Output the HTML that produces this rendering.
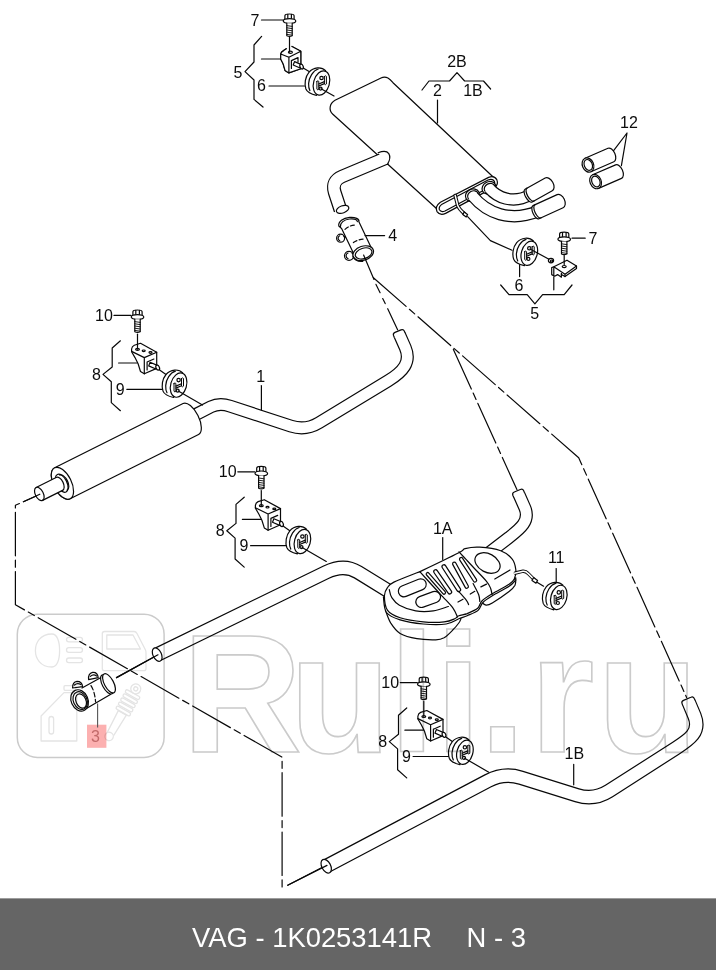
<!DOCTYPE html>
<html><head><meta charset="utf-8"><title>VAG - 1K0253141R</title>
<style>
html,body{margin:0;padding:0;background:#fff;}
body{width:716px;height:970px;overflow:hidden;position:relative;font-family:"Liberation Sans",sans-serif;}
#dia{position:absolute;left:0;top:0;width:716px;height:898px;display:block;}
#bar{position:absolute;left:0;top:898px;width:716px;height:72px;background:#656565;border-top:1px solid #9c9c9c;box-sizing:border-box;}
#bar span{position:absolute;top:24px;color:#fff;font-size:27.4px;line-height:30px;white-space:nowrap;}
.s{fill:none;stroke:#080808;stroke-width:1.2;stroke-linecap:round;stroke-linejoin:round;}
.w{fill:#fff;stroke:#080808;stroke-width:1.2;stroke-linecap:round;stroke-linejoin:round;}
.t{font-family:"Liberation Sans",sans-serif;font-size:16px;fill:#0c0c0c;text-anchor:middle;}
.wm{fill:none;stroke:#cbcbcb;stroke-width:1.6;}
.wi{fill:none;stroke:#e4e4e4;stroke-width:1.3;stroke-linejoin:round;stroke-linecap:round;}
.po{fill:none;stroke:#080808;stroke-linejoin:round;}
.pi{fill:none;stroke:#fff;stroke-linejoin:round;}
</style></head>
<body>
<svg id="dia" width="716" height="898" viewBox="0 0 716 898">
<defs>
<!-- bolt: origin = head centre -->
<g id="bolt">
 <path class="w" d="M-4.6,0 L-4.6,-3.6 Q-4.6,-5.4 0,-5.4 Q4.6,-5.4 4.6,-3.6 L4.6,0"/>
 <path class="s" d="M-1.7,-5 L-1.7,-0.2 M1.9,-5 L1.9,-0.2"/>
 <ellipse class="w" cx="0" cy="1.6" rx="6.3" ry="2.4"/>
 <path class="w" d="M-2.7,3.8 L-2.7,16.4 Q0,17.6 2.7,16.4 L2.7,3.8"/>
 <path class="s" style="stroke-width:.9" d="M-2.7,6.2 L2.7,7 M-2.7,8.4 L2.7,9.2 M-2.7,10.6 L2.7,11.4 M-2.7,12.8 L2.7,13.6 M-2.7,15 L2.7,15.8"/>
</g>
<!-- rubber mount: origin = front face centre -->
<g id="mount">
 <path class="w" d="M4.1,-12.3 C0,-16.5 -8,-16 -12.6,-10.6 C-16.4,-6 -17.3,1 -15.6,6 C-14,10 -9,11.5 -5,12.4 Z"/>
 <path class="s" d="M-3.2,-14 C-8.5,-12.5 -12.6,-5.5 -12.9,0.5 C-13,3.5 -12.5,6 -11.6,7.6"/>
 <ellipse class="w" cx="0" cy="0" rx="7.9" ry="12.4" transform="rotate(16)"/>
 <path class="s" style="stroke-width:1" d="M-4.6,-1.6 L-4.6,6.2 Q-3.6,7.6 -2.7,6.2 L-2.7,-1.6 Q-3.6,-3 -4.6,-1.6 Z"/>
 <path class="s" style="stroke-width:1" d="M2.9,-6.6 L2.9,1 Q3.9,2.4 4.9,1 L4.9,-6.6 Q3.9,-8 2.9,-6.6 Z"/>
 <circle class="s" cx="0" cy="-5" r="1.7"/>
 <path class="s" d="M-2.7,1 L2.9,-1.4 M-2.7,3 L2.9,0.6"/>
 <circle class="s" cx="-0.9" cy="5.6" r="1.5"/>
</g>
<!-- hanger group 8/9/10: origin = bolt head centre -->
<g id="hang">
 <path class="s" d="M-23.5,0 L-6.5,0"/>
 <use href="#bolt"/>
 <path class="w" d="M-5.9,33.6 Q-5.6,31 -3.2,29.8 L3,27.9 L19.2,36.8 L19.2,53 L6.8,58.4 L3,56.1 L0.6,48.4 L-2.5,42.2 L-5.9,36.4 Z"/>
 <path class="s" d="M-5.9,36 L6.8,42.2 L19.2,36.8 M6.8,42.2 L6.8,58.4"/>
 <path class="s" d="M9.6,46.6 L9.6,54.6 M9.6,46.6 L16.4,43.6"/>
 <ellipse class="s" cx="0" cy="33.9" rx="1.9" ry="1"/>
 <path class="s" d="M0,18.8 L0,33.8"/>
 <ellipse class="s" cx="6.2" cy="35.4" rx="1.5" ry=".8"/>
 <ellipse class="s" cx="13" cy="37.1" rx="1.5" ry=".8"/>
 <path class="w" d="M12.6,46.9 L19.8,50 L18.4,53.6 L11.2,50.5 Z"/>
 <ellipse class="w" cx="20.2" cy="52.2" rx="1.7" ry="2.6" transform="rotate(-24 20.2 52.2)"/>
 <path class="s" d="M22.1,54.5 L28.5,59"/>
 <use href="#mount" x="41.1" y="69.7"/>
 <path class="s" d="M40.8,75.6 L65,89.6"/>
 <path class="s" d="M-10.7,73.9 L24.6,73.9"/>
 <path class="s" d="M-17.1,25.4 L-25.3,32.6 L-25.3,51.6 L-34.5,59 L-26.2,66.3 L-26.2,87.2 L-17.1,95.3"/>
 <path class="s" d="M-18.9,47.6 L-0.4,47.6"/>
</g>
</defs>

<g id="axes" class="s">
 <!-- from clamp 4 down to pipe 1B end -->
 <path d="M373.4,277.7 L578.7,457.8 L686.6,697.4" stroke-dasharray="43.5 4.4 7 4.4"/>
 <!-- branch to pipe 1 end -->
 <path d="M376,284.4 L380.1,292.7 M382.7,298.6 L385.2,303.6 M387.7,308.7 L397.6,329.8"/>
 <!-- branch to pipe 1A end -->
 <path d="M453.4,349.4 L516.9,489.6" stroke-dasharray="43.5 4.4 7 4.4"/>
 <!-- left: muffler 1 inlet to clamp 3 and on to pipe 1B -->
 <path d="M38.5,495 L15.4,505.3 L15.4,604.7 L282.1,757.2 L282.1,889" stroke-dasharray="43.5 4.4 7 4.4" stroke-dashoffset="27"/>
 <path d="M287.7,885.2 L323,867"/>
 <path d="M153,657.5 L116.5,677.6"/>
</g>
<!--LINES_END-->
<g id="pipes">
 <!-- pipe 1 -->
 <path class="po" stroke-width="13" d="M196,414.4 L211,406.8 Q219.4,402.6 230,406.1 L291,426.1 Q305.5,430.9 319,422.7 L388,380.9 C403,371.8 411.5,362.2 405.3,347.7 L399.6,334.8"/>
 <path class="pi" stroke-width="10.6" d="M196,414.4 L211,406.8 Q219.4,402.6 230,406.1 L291,426.1 Q305.5,430.9 319,422.7 L388,380.9 C403,371.8 411.5,362.2 405.3,347.7 L399.2,333.8"/>
 <path class="w" d="M394.4,337.6 L393.6,335.8 Q392.6,333.4 395.0,332.4 L401.0,329.9 Q403.4,328.9 404.4,331.2 L405.1,333.0" style="stroke-linecap:butt"/>
 <!-- pipe from 1A up-right -->
 <path class="po" stroke-width="13" d="M480,559.7 L509,537.5 C520,529 530.5,521 524.8,507.7 L518.9,494.4"/>
 <path class="pi" stroke-width="10.6" d="M480,559.7 L509,537.5 C520,529 530.5,521 524.8,507.7 L518.5,493.4"/>
 <path class="w" d="M513.7,497.2 L512.9,495.4 Q511.9,493.0 514.3,492.0 L520.3,489.5 Q522.7,488.5 523.7,490.8 L524.4,492.6" style="stroke-linecap:butt"/>
 <!-- pipe into 1A from left -->
 <path class="po" stroke-width="14.6" d="M157.6,654.4 L326,572.2 Q344,563.4 358,572.2 L395,595"/>
 <path class="pi" stroke-width="12.2" d="M157,654.7 L326,572.2 Q344,563.4 358,572.2 L395,595"/>
 <ellipse class="w" cx="157.2" cy="654.6" rx="4.2" ry="7.2" transform="rotate(-26 157.2 654.6)"/>
 <!-- pipe 1B -->
 <path class="po" stroke-width="14.6" d="M326.5,866 L488,780.8 Q504,772.4 521,777.7 L577,795.2 Q594,800.5 609,791 L676,748.1 C689,739.8 701,732 694.5,715.9 L688.8,702.5"/>
 <path class="pi" stroke-width="12.2" d="M326,866.3 L488,780.8 Q504,772.4 521,777.7 L577,795.2 Q594,800.5 609,791 L676,748.1 C689,739.8 701,732 694.5,715.9 L688.4,701.5"/>
 <path class="w" d="M682.8,705.6 L682.1,703.8 Q681.1,701.5 683.5,700.4 L690.9,697.3 Q693.3,696.2 694.3,698.6 L695.1,700.4" style="stroke-linecap:butt"/>
 <ellipse class="w" cx="326.2" cy="866.2" rx="4.4" ry="7.4" transform="rotate(-27.8 326.2 866.2)"/>
</g>
<!--PIPES_END-->
<!--PARTS_BEGIN--><g id="parts">
<g id="muf2">
<path class="w" d="M332.6,114 C328.5,110 329.5,103.5 335,100.3 L381,78 C386.5,75.4 390,79.2 393,82.7 L494.5,178.2 L437,209 Z"/>
<path class="w" d="M488.6,177.4 Q494,175 496.8,179.6 Q498.6,184.4 495.2,186.6 L445.6,213.4 Q440,216 437,211.6 Q434.6,206.4 440.4,202.2 Z"/>
<path class="s" d="M488,180 Q492.6,178.2 494.4,181.4 Q495.4,184 493.2,185.2 L445,211 Q441,212.6 439.4,209.8 Q438.4,206.6 442,204.2 Z"/>
</g>
<g id="inlet2">
<path class="po" stroke-width="13.8" d="M386,158 L342,176.5 Q331.5,181 334.6,192 L340.5,210"/>
<path class="pi" stroke-width="11.4" d="M386,158 L342,176.5 Q331.5,181 334.6,192 L340.7,210.5"/>
<ellipse class="w" cx="342.6" cy="209.4" rx="6.5" ry="3.6" transform="rotate(-20 342.6 209.4)"/>
<path class="w" d="M378.2,152.8 Q386,149.6 388.8,153.6 Q391.4,158 387.4,164.4" />
</g>
<g id="tails">
<ellipse class="w" cx="489" cy="187.8" rx="7.2" ry="6" transform="rotate(-28 489 187.8)"/>
<ellipse class="s" cx="489.6" cy="188.2" rx="5.6" ry="4.6" transform="rotate(-28 489.6 188.2)"/>
<path class="po" stroke-width="12.4" d="M489.6,188.6 Q496,196 506,198.6 Q518.6,201.6 530,194.8"/>
<path class="pi" stroke-width="10" d="M489,187.9 Q496,196 506,198.6 Q518.6,201.6 530.5,194.5"/>
<g transform="translate(528.6,195.6) rotate(-29)"><path class="w" d="M0,-7.3 L23,-7.3 A4.6,7.3 0 0 1 23,7.3 L0,7.3 A3.2,7.3 0 0 1 0,-7.3 Z"/><path class="s" d="M2.2,-7.3 A3.2,7.3 0 0 0 2.2,7.3"/></g>
<ellipse class="w" cx="472.4" cy="195.2" rx="7.2" ry="6" transform="rotate(-28 472.4 195.2)"/>
<ellipse class="s" cx="473" cy="195.6" rx="5.6" ry="4.6" transform="rotate(-28 473 195.6)"/>
<path class="po" stroke-width="12.4" d="M473,196.4 Q484,209.6 500,214.2 Q518,219.2 537.4,211.6"/>
<path class="pi" stroke-width="10" d="M472.4,195.7 Q484,209.6 500,214.2 Q518,219.2 538,211.4"/>
<g transform="translate(536,212.2) rotate(-24.5)"><path class="w" d="M0,-7.2 L26.5,-7.2 A4.6,7.2 0 0 1 26.5,7.2 L0,7.2 A3.2,7.2 0 0 1 0,-7.2 Z"/><path class="s" d="M2.2,-7.2 A3.2,7.2 0 0 0 2.2,7.2"/></g>
<path class="po" stroke-width="3.6" stroke-linecap="round" d="M455.2,195.5 L457.6,205 Q458.8,209 464.6,213.8"/>
<path class="pi" stroke-width="1.5" stroke-linecap="round" d="M455.2,195.5 L457.6,205 Q458.8,209 464.6,213.8"/>
<path class="w" d="M464.2,212 L467.6,214.4 L466.2,217 L462.8,214.6 Z"/>
<path class="s" d="M467.6,216.6 L490.4,240.6 L512,250.2"/>
</g>
<g id="tips12">
<g transform="translate(588,165) rotate(-23.5)"><path class="w" d="M0,-7.4 L25,-7.4 A4.2,7.4 0 0 1 25,7.4 L0,7.4 Z"/><ellipse class="w" cx="0" cy="0" rx="5.6" ry="7.4"/><ellipse class="s" cx="0.3" cy="0" rx="4" ry="5.6"/></g>
<g transform="translate(595.6,181.6) rotate(-23.5)"><path class="w" d="M0,-7.4 L25,-7.4 A4.2,7.4 0 0 1 25,7.4 L0,7.4 Z"/><ellipse class="w" cx="0" cy="0" rx="5.6" ry="7.4"/><ellipse class="s" cx="0.3" cy="0" rx="4" ry="5.6"/></g>
<path class="s" d="M627,133 L613.6,150.6 M627,133 L621.4,165.6"/>
<text class="t" x="629" y="128.2">12</text>
</g>
<g id="muf1" transform="translate(62.4,483.3) rotate(-26.6)">
<path class="w" d="M0,-17.3 L143.6,-17.3 A8,17.3 0 0 1 143.6,17.3 L0,17.3 A9,17.3 0 0 1 0,-17.3 Z"/>
<ellipse class="w" cx="0" cy="0" rx="9" ry="17.3"/>
<ellipse class="s" cx="-0.6" cy="-0.4" rx="5.2" ry="9.8"/>
<path class="s" d="M1.2,-8.6 A4.4,8.4 0 0 1 1.2,8.2"/>
<path class="w" d="M-3,-8 L-25.4,-8 A4,7.2 0 0 0 -25.4,6.4 L-3,6.4 A4,7.2 0 0 0 -3,-8 Z"/>
<path class="s" d="M-25.4,-8 A4,7.2 0 0 1 -25.4,6.4"/>
</g>
<g id="muf1a">
<path class="w" d="M385.5,610.4 C386.3,612.5 388.3,619.2 390.7,623.0 C393.2,626.8 395.8,630.9 400.1,633.5 C404.5,636.1 411.0,637.7 416.9,638.7 C422.8,639.8 431.2,639.9 435.8,639.8 C440.3,639.6 441.3,639.2 444.1,637.7 C446.9,636.1 450.1,632.8 452.5,630.3 C455.0,627.9 457.4,624.9 458.8,623.0 C460.2,621.1 460.6,619.5 460.9,618.8 L430,600 Z"/>
<path class="w" d="M480.8,601.6 C481.7,602.2 484.1,604.9 486.0,605.2 C488.0,605.4 488.5,605.4 492.3,603.1 C496.2,600.8 505.3,594.5 509.1,591.6 C512.9,588.6 513.8,587.6 515.0,585.3 C516.1,583.0 515.7,579.2 515.8,577.9 L490,585 Z"/>
<path class="w" d="M383.4,597.0 C383.9,599.6 383.7,608.7 386.5,612.5 C389.3,616.3 394.0,617.9 400.1,619.9 C406.3,621.8 415.5,623.3 423.2,624.0 C430.9,624.7 440.3,624.9 446.2,624.0 C452.2,623.2 455.3,620.2 458.8,618.8 C462.3,617.4 464.0,617.1 467.2,615.7 C470.4,614.3 475.5,612.6 478.1,610.4 C480.7,608.2 480.5,604.9 482.9,602.5 C485.3,600.0 488.0,598.4 492.3,595.8 C496.7,593.1 505.2,588.9 509.1,586.3 C513.0,583.7 514.7,581.1 515.8,580.0 L480,570 Z"/>
<path class="w" d="M384.4,595.8 C384.4,591.9 386.0,589.6 387.6,587.4 C389.1,585.1 389.0,584.6 393.9,582.1 C398.7,579.7 412.2,574.6 416.9,572.7 C421.6,570.8 415.2,573.9 422.1,570.6 C429.1,567.3 451.6,556.5 458.8,552.8 C466.0,549.1 461.6,549.6 465.1,548.6 C468.6,547.7 473.8,546.8 479.8,547.2 C485.7,547.5 495.3,548.7 500.7,550.7 C506.1,552.7 509.7,556.0 512.2,559.1 C514.7,562.2 515.4,566.3 515.8,569.6 C516.1,572.9 515.4,576.6 514.3,579.0 C513.2,581.4 512.8,581.8 509.1,584.2 C505.4,586.7 496.9,590.9 492.3,593.7 C487.8,596.5 484.3,598.6 481.9,601.0 C479.4,603.4 480.1,606.2 477.7,608.3 C475.2,610.4 470.3,612.3 467.2,613.6 C464.0,614.8 460.9,614.8 458.8,615.7 C456.7,616.5 457.1,617.8 454.6,618.8 C452.2,619.9 449.4,621.4 444.1,621.9 C438.9,622.5 430.5,622.6 423.2,621.9 C415.9,621.2 406.1,619.7 400.1,617.8 C394.2,615.8 390.2,614.1 387.6,610.4 C385.0,606.8 384.4,599.6 384.4,595.8 Z"/>
<rect class="s" x="-14.6" y="-5.6" width="29.2" height="11.2" rx="5.6" transform="translate(412.3,587.8) rotate(-22)"/>
<rect class="s" x="-12.8" y="-5.6" width="25.6" height="11.2" rx="5.6" transform="translate(428.2,599.4) rotate(-20)"/>
<path class="s" d="M389.3,589.6 C389.7,591.0 390.1,595.1 391.8,597.7 C393.5,600.3 395.4,603.0 399.4,605.2 C403.4,607.4 410.0,610.0 415.7,610.9 C421.4,611.8 427.9,611.6 433.3,610.9 C438.8,610.2 445.9,607.2 448.4,606.5"/>
<path class="s" d="M420.0,571.8 C421.8,573.8 427.2,579.8 431.0,584.0 C434.8,588.2 439.2,592.9 442.9,596.9 C446.6,600.9 450.6,604.8 453.0,608.1 C455.4,611.5 456.8,615.5 457.5,617.0"/>
<rect class="s" x="0" y="-1.5" width="27.8" height="3.0" rx="1.5" transform="translate(426.7,572.9) rotate(48.8)"/>
<rect class="s" x="0" y="-1.9" width="28.5" height="3.8" rx="1.9" transform="translate(434.6,570.1) rotate(55.4)"/>
<rect class="s" x="0" y="-1.9" width="31.1" height="3.8" rx="1.9" transform="translate(442.9,565.1) rotate(57.3)"/>
<rect class="s" x="0" y="-1.7" width="29.3" height="3.4" rx="1.7" transform="translate(453.5,562.3) rotate(61.4)"/>
<rect class="s" x="0" y="-1.7" width="28.6" height="3.4" rx="1.7" transform="translate(460.3,557.8) rotate(57.0)"/>
<ellipse class="s" cx="487.5" cy="563" rx="13.4" ry="9.2" transform="rotate(28 487.5 563)"/>
<path class="s" d="M459.0,551.8 C460.2,553.1 463.5,556.7 466.0,559.4 C468.5,562.1 470.6,564.4 474.0,568.0 C477.4,571.6 483.8,578.0 486.5,581.3 C489.2,584.6 489.6,585.8 490.5,588.0 C491.4,590.2 491.8,593.6 492.1,594.7"/>
<path class="s" d="M458.6,591.3 C459.9,592.8 464.7,598.1 466.4,600.3 C468.1,602.5 468.2,603.9 468.6,604.6"/>
<path class="s" d="M473.1,583.5 C474.0,585.4 477.6,591.7 478.7,594.7 C479.8,597.7 479.6,600.3 479.8,601.4"/>
<path class="s" d="M458,602 L463,599.2 M470.3,594.1 L474.8,591.3 M480.9,586.9 L486.5,584.1 M494.8,579 L510,570"/>
</g>
<g id="h11">
<path class="po" stroke-width="3.4" stroke-linecap="round" d="M515.4,573 L523,571.2 Q526,571 528,573.4 L534,579.4"/>
<path class="pi" stroke-width="1.5" stroke-linecap="round" d="M514.6,573.2 L523,571.2 Q526,571 528,573.4 L534,579.4"/>
<path class="w" d="M533.6,577.6 L537.6,580.4 L536,583.2 L532,580.4 Z"/>
<path class="s" d="M537.4,582.4 L543.6,586.2"/>
<use href="#mount" x="558.8" y="597.4"/>
<path class="s" d="M556.2,568.6 L556.2,583"/>
<text class="t" x="556.2" y="563.4">11</text>
</g>
</g>
<!--PARTS_END-->
<!--PARTS2_BEGIN--><g id="parts2">
 <path class="s" d="M287.7,885.2 L327,865.4 M158,654.8 L116.5,677.6 M23.4,501.7 L39.8,494.2"/>
 <!-- hanger groups 8/9/10 -->
 <use href="#hang" x="137.5" y="315.4"/>
 <text class="t" x="103.9" y="320.8">10</text><text class="t" x="96.5" y="380.0">8</text><text class="t" x="120.1" y="395.0">9</text>
 <use href="#hang" x="261.3" y="471.8"/>
 <text class="t" x="227.7" y="477.2">10</text><text class="t" x="220.3" y="536.4">8</text><text class="t" x="243.9" y="551.4">9</text>
 <use href="#hang" x="423.8" y="682.6"/>
 <text class="t" x="390.2" y="688.0">10</text><text class="t" x="382.8" y="747.2">8</text><text class="t" x="406.4" y="762.2">9</text>
 <!-- group 5/6/7 top-left -->
 <g id="gA">
  <text class="t" x="255" y="25.6">7</text>
  <path class="s" d="M261.5,20 L283,20"/>
  <use href="#bolt" x="289.5" y="19.4"/>
  <path class="w" d="M280.7,54 Q281,52 283.6,50.6 L286.6,48.6 M292,46.5 L300.8,51.2 L300.8,68.8 L288.9,72.9 L285,70.4 L283.2,64 L280.7,59 L280.7,54" />
  <path class="w" d="M280.7,54 L286.6,48.6 L292,46.5 L300.8,51.2 L300.8,68.8 L288.9,72.9 L285,70.4 L283.2,64 L280.7,59 Z" style="stroke:none"/>
  <path class="s" d="M280.7,54 Q281,52 283.6,50.6 L286.4,48.8 M292,46.5 L300.8,51.2 L300.8,68.8 L288.9,72.9 L285,70.4 L283.2,64 L280.7,59 L280.7,54 L288.9,57.2 L300.8,51.2 M288.9,57.2 L288.9,72.9"/>
  <ellipse class="s" cx="290.4" cy="52.2" rx="2" ry="1.1"/>
  <path class="s" d="M289.5,37.4 L289.5,52.2"/>
  <path class="s" d="M291.4,60.6 L291.4,68.4 M291.4,60.6 L298,57.6 M298,57.6 L298,62"/>
  <path class="w" d="M294.6,61.6 L301.4,64.6 L300,68 L293.2,65 Z"/>
  <ellipse class="w" cx="301.6" cy="66.6" rx="1.6" ry="2.5" transform="rotate(-24 301.6 66.6)"/>
  <path class="s" d="M303.2,68 L311.6,73"/>
  <use href="#mount" x="321.5" y="83"/>
  <path class="s" d="M321,88.8 L334,96"/>
  <text class="t" x="261.5" y="91.4">6</text>
  <path class="s" d="M269,86 L304.4,86"/>
  <text class="t" x="238" y="77.6">5</text>
  <path class="s" d="M261.6,36.4 L254,45 L254,62 L245,71.6 L254,80 L254,99.4 L263,107"/>
  <path class="s" d="M261.5,59 L280.4,59"/>
 </g>
 <!-- group 5/6/7 right -->
 <g id="gC">
  <use href="#mount" x="529.3" y="253.3"/>
  <path class="s" d="M530,249 L549,259.2"/>
  <path class="w" d="M553.8,266.8 L567,260.2 L576.5,266 L576.5,268.4 L565,276.6 L561.4,274.4 L561.4,277.2 L557.6,274.6 L554.6,276.2 L551.7,274.6 L551.7,267.6 Z"/>
  <path class="s" d="M553.8,266.8 L565,274.2 L576.5,266 M565,274.2 L565,276.6 M553.8,266.8 L553.8,275.8 M561.4,271.8 L561.4,274.4"/>
  <ellipse class="s" cx="564.2" cy="266.6" rx="2" ry="1.1"/>
  <ellipse class="w" cx="551" cy="260.6" rx="2.6" ry="2.2"/>
  <ellipse class="s" cx="551.6" cy="261" rx="1.2" ry="1"/>
  <use href="#bolt" x="564.2" y="237.6"/>
  <path class="s" d="M564.2,255.6 L564.2,264.6"/>
  <text class="t" x="592.9" y="243.8">7</text>
  <path class="s" d="M572,238.2 L585.2,238.2"/>
  <text class="t" x="519" y="290.6">6</text>
  <path class="s" d="M519.6,264.6 L519.6,276.6"/>
  <path class="s" d="M500.7,285 L509,294.7 L527.2,294.7 L534.9,303.8 L542.6,294.7 L564.2,294.7 L572,285"/>
  <path class="s" d="M553.8,277 L553.8,289.8"/>
  <text class="t" x="534.6" y="319.2">5</text>
 </g>
 <!-- clamp 4 -->
 <g id="clamp4">
  <circle class="w" cx="340.6" cy="238.2" r="4"/>
  <path class="s" d="M339.7,240.6 A2.6,2.6 0 0 1 339.7,235.8 M343.6,236 L346,237.4"/>
  <circle class="w" cx="349" cy="255.8" r="4.5"/>
  <path class="s" d="M348,258.6 A3,3 0 0 1 348,253 M352.2,253.4 L354.6,254.8"/>
  <path class="w" d="M338.8,226 C338,221.5 343,218 349.6,217.4 C355.5,217 359.5,219 358.9,221.8 L371.6,248.6 L353.6,253.6 L341.6,228.5 Z"/>
  <path class="s" d="M340.4,226.8 C340,222.8 344,219.6 349.6,219 C354,218.6 357,219.8 357.4,221.6"/>
  <path class="s" d="M345,229.4 Q349.6,225.2 355.4,225" stroke-dasharray="4 2.4"/>
  <path class="s" d="M353.4,242.6 Q358,239.4 364,239" stroke-dasharray="4 2.4"/>
  <ellipse class="w" cx="363.2" cy="253.2" rx="10.6" ry="7" transform="rotate(-18 363.2 253.2)"/>
  <ellipse class="s" cx="363.6" cy="253.4" rx="8.6" ry="5.2" transform="rotate(-18 363.6 253.4)"/>
  <path class="s" d="M353.2,256.4 Q355,262 362.8,261.4"/>
  <path class="s" d="M363.6,255 L374,279.4"/>
  <text class="t" x="392.7" y="241.4">4</text>
  <path class="s" d="M365,235.6 L384.6,235.6"/>
 </g>
 <!-- clamp 3 -->
 <g id="clamp3">
  <path class="w" d="M88.6,679.6 Q88,673.4 92.6,672.4 Q97.6,672 98.2,677.6 Z"/>
  <path class="s" d="M90.4,676.4 Q93.4,673.6 96.6,676"/>
  <path class="w" d="M72.6,688 Q72.4,682 77,681.4 Q82,681.4 82.6,686.6 Z"/>
  <path class="s" d="M74.4,685 Q77.6,682.4 80.8,684.6"/>
  <path class="w" d="M82,688 L103.6,676 L112.4,693.4 L87,708.2 Z" style="stroke:none"/>
  <path class="s" d="M82,688 L102.8,676.4 M86.8,708.2 L110.4,694.4"/>
  <path class="s" d="M91,685.6 Q94.6,691 95.6,702" stroke-dasharray="5 2.4"/>
  <ellipse class="w" cx="107" cy="684.4" rx="4.6" ry="10.6" transform="rotate(-28 107 684.4)"/>
  <ellipse class="w" cx="109" cy="683.3" rx="4.6" ry="10.6" transform="rotate(-28 109 683.3)"/>
  <ellipse class="w" cx="79.6" cy="700.4" rx="8.4" ry="11" transform="rotate(-24 79.6 700.4)"/>
  <ellipse class="s" cx="80.2" cy="700.6" rx="6.8" ry="9.2" transform="rotate(-24 80.2 700.6)"/>
  <ellipse class="s" cx="81" cy="701" rx="5" ry="7.4" transform="rotate(-24 81 701)"/>
 </g>
 <rect x="87" y="724.7" width="19.4" height="23.1" fill="#fcb0b0"/>
 <path d="M97.6,703.4 L97.6,727.4" style="fill:none;stroke:#555;stroke-width:1.1"/>
 <text class="t" x="95.4" y="742" style="fill:#c26a6a">3</text>
 <!-- labels -->
 <text class="t" x="260.6" y="382.4">1</text>
 <path class="s" d="M261.4,385.5 L261.4,410"/>
 <text class="t" x="442.7" y="534.4">1A</text>
 <path class="s" d="M442.7,537.5 L442.7,559.5"/>
 <text class="t" x="574.4" y="759.4">1B</text>
 <path class="s" d="M573.7,764.4 L573.7,784.8"/>
 <text class="t" x="457" y="66.6">2B</text>
 <text class="t" x="437.5" y="95.6">2</text>
 <text class="t" x="473" y="95.6">1B</text>
 <path class="s" d="M422,90 L429,81 L449.5,81 L457,72.6 L464.6,81 L483.5,81 L490.6,89"/>
 <path class="s" d="M437.5,100 L437.5,123"/>
</g>
<!--PARTS2_END-->
<g id="watermark" style="mix-blend-mode:multiply">
 <rect class="wm" x="17.3" y="614.2" width="146.8" height="143.2" rx="20" ry="20" style="stroke-width:1.5"/>
 <g class="wi">
  <path d="M52,634 C40,634 35.4,643 35.4,650.5 C35.4,658 40,667 52,667 C57,667 59.6,660 59.6,650.5 C59.6,641 57,634 52,634 Z"/>
  <rect x="66.5" y="637.3" width="16" height="4.6" rx="2.3"/>
  <rect x="66.5" y="647.7" width="16" height="4.6" rx="2.3"/>
  <rect x="66.5" y="658" width="16" height="4.6" rx="2.3"/>
  <path d="M104.5,631.5 L134,631.5 Q136,631.5 137,633.5 L145.5,650 Q146,651 146,653 L146,668.5 Q146,670.7 144,670.7 L104.5,670.7 Q102.3,670.7 102.3,668.5 L102.3,633.7 Q102.3,631.5 104.5,631.5 Z"/>
  <path d="M106.8,635 L133,635 L140.5,649 L106.8,649 Z"/>
  <rect x="64" y="685.7" width="12" height="4.6" rx="1"/>
  <path d="M41.1,716 L64,692.6 L76.8,692.6 L76.8,741 L41.1,741 Z"/>
  <rect x="49" y="716.5" width="4.6" height="17.5" rx="2.3"/>
  <g transform="translate(109.1,736.4) rotate(-60.7)">
   <circle cx="0" cy="0" r="4.2"/>
   <path d="M3.5,-3.6 L27,-4.6 L27,4.6 L3.5,3.6"/>
   <rect x="27.4" y="-8" width="3.4" height="16" rx="1.7"/>
   <rect x="32.1" y="-8" width="3.4" height="16" rx="1.7"/>
   <rect x="36.8" y="-8" width="3.4" height="16" rx="1.7"/>
   <rect x="41.5" y="-8" width="3.4" height="16" rx="1.7"/>
   <rect x="46.2" y="-8" width="3.4" height="16" rx="1.7"/>
   <circle cx="54.5" cy="0" r="5"/>
   <circle cx="54.5" cy="0" r="2"/>
  </g>
 </g>
 <text id="wmt" transform="translate(0,752.4) scale(1,1.015)" x="182.3 289.4 389 435.2 479.5 529.7 597.3" y="0" class="wm" style="font-family:'Liberation Sans',sans-serif;font-weight:bold;font-size:166px;">Ruli.ru</text>
</g>
<!--WATERMARK_END-->
</svg>
<div id="bar"><span style="left:192px">VAG - 1K0253141R</span><span style="left:466.6px">N - 3</span></div>
</body></html>
